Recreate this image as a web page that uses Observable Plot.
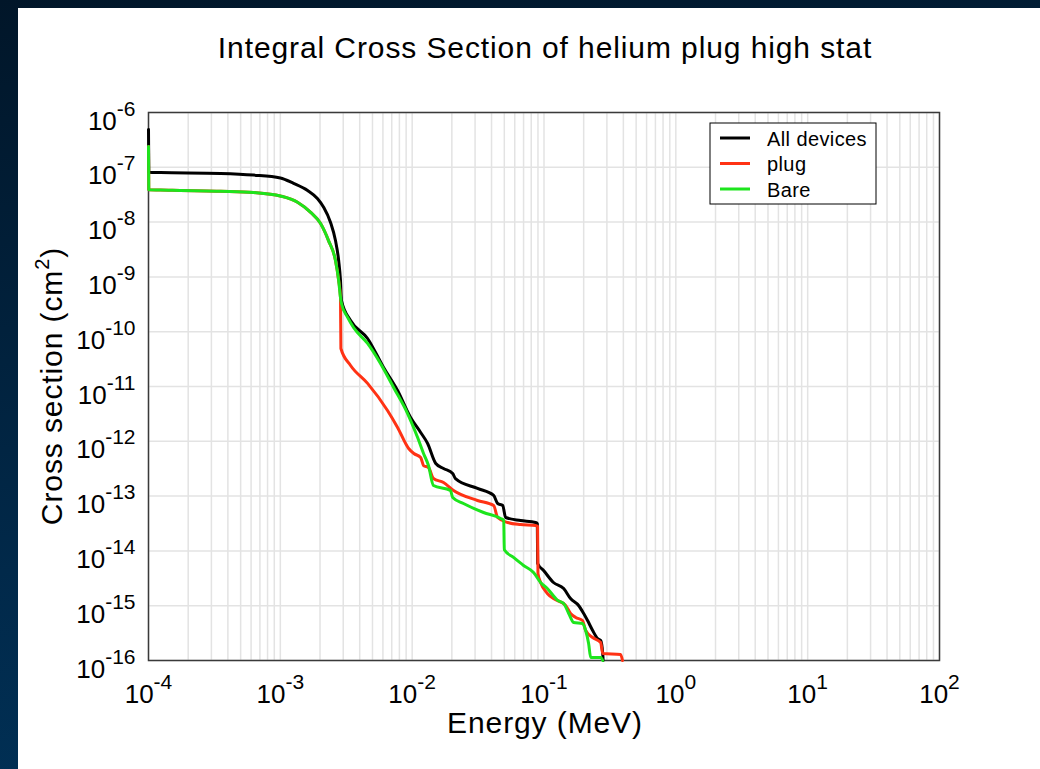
<!DOCTYPE html>
<html><head><meta charset="utf-8">
<script src="https://cdn.jsdelivr.net/npm/d3@7"></script>
<script src="https://cdn.jsdelivr.net/npm/@observablehq/plot@0.6"></script>
<style>
html,body{margin:0;padding:0;width:1040px;height:769px;overflow:hidden;background:linear-gradient(170deg,#011629 0%,#01294a 60%,#00345c 100%);}
#panel{position:absolute;left:18px;top:8px;width:1022px;height:761px;background:#fff;}
#panel svg{font-family:"Liberation Sans",Arial,Helvetica,sans-serif;display:block;}
</style></head><body><div id="panel"></div>
<script>
// ---- data (Energy in MeV, integral cross section in cm^2) ----
const allE = [1.00e-4,1.005e-4,1.23e-4,3.52e-4,6.26e-4,1.00e-3,1.26e-3,1.61e-3,1.91e-3,2.13e-3,2.40e-3,2.62e-3,2.77e-3,2.86e-3,2.91e-3,
  3.41e-3,4.59e-3,6.07e-3,7.75e-3,9.73e-3,1.16e-2,1.31e-2,1.51e-2,1.73e-2,2.03e-2,2.13e-2,3.13e-2,4.15e-2,4.45e-2,4.86e-2,5.12e-2,
  6.64e-2,8.63e-2,8.90e-2,8.95e-2,9.93e-2,1.18e-1,1.41e-1,1.59e-1,1.83e-1,2.00e-1,2.14e-1,2.34e-1,2.55e-1,2.69e-1,2.79e-1,2.81e-1];
const allS = [4.9e-7,8.1e-8,8.0e-8,7.7e-8,7.2e-8,6.4e-8,5.1e-8,3.78e-8,2.70e-8,1.87e-8,9.95e-9,4.6e-9,1.99e-9,8.6e-10,3.71e-10,
  1.60e-10,7.52e-11,2.22e-11,8.45e-12,2.72e-12,1.45e-12,9.12e-13,3.94e-13,3.19e-13,2.58e-13,2.09e-13,1.38e-13,1.03e-13,7.33e-14,6.73e-14,4.07e-14,
  3.59e-14,3.30e-14,3.15e-14,5.89e-15,4.39e-15,2.65e-15,2.06e-15,1.35e-15,1.01e-15,7.21e-16,5.37e-16,3.52e-16,2.52e-16,2.32e-16,1.34e-16,1.0e-16];

const plugE = [1.00e-4,1.005e-4,1.23e-4,3.52e-4,6.26e-4,1.00e-3,1.35e-3,1.69e-3,2.02e-3,2.32e-3,2.62e-3,2.77e-3,2.86e-3,2.88e-3,
  3.41e-3,4.59e-3,6.50e-3,7.75e-3,9.40e-3,1.03e-2,1.16e-2,1.22e-2,1.33e-2,1.45e-2,1.73e-2,2.06e-2,3.13e-2,4.15e-2,4.45e-2,5.30e-2,
  6.64e-2,8.63e-2,8.94e-2,9.00e-2,9.42e-2,1.06e-1,1.18e-1,1.46e-1,1.59e-1,1.74e-1,1.96e-1,2.07e-1,2.34e-1,2.69e-1,2.79e-1,3.81e-1,3.94e-1];
const plugS = [2.4e-7,3.88e-8,3.85e-8,3.66e-8,3.47e-8,3.0e-8,2.31e-8,1.52e-8,9.4e-9,4.6e-9,1.99e-9,8.6e-10,4.2e-10,4.93e-11,
  2.42e-11,1.14e-11,3.65e-12,1.79e-12,7.40e-13,5.99e-13,5.06e-13,3.61e-13,3.32e-13,2.09e-13,1.77e-13,1.27e-13,8.32e-14,6.73e-14,4.07e-14,3.30e-14,
  3.03e-14,2.91e-14,2.80e-14,3.87e-15,2.65e-15,1.67e-15,1.35e-15,1.01e-15,7.21e-16,6.10e-16,5.37e-16,3.52e-16,2.63e-16,2.13e-16,1.34e-16,1.29e-16,1.0e-16];

const bareE = [1.00e-4,1.005e-4,1.23e-4,3.52e-4,6.26e-4,1.00e-3,1.35e-3,1.69e-3,2.02e-3,2.32e-3,2.62e-3,2.77e-3,2.86e-3,2.91e-3,
  3.24e-3,3.59e-3,4.59e-3,5.75e-3,7.23e-3,9.23e-3,1.10e-2,1.22e-2,1.33e-2,1.45e-2,1.95e-2,2.03e-2,2.45e-2,3.48e-2,4.69e-2,4.95e-2,5.00e-2,
  5.87e-2,7.00e-2,8.33e-2,9.42e-2,1.06e-1,1.27e-1,1.41e-1,1.54e-1,1.68e-1,1.96e-1,2.07e-1,2.18e-1,2.26e-1,2.69e-1,2.79e-1];
const bareS = [2.4e-7,3.88e-8,3.85e-8,3.66e-8,3.47e-8,3.0e-8,2.31e-8,1.52e-8,9.4e-9,4.6e-9,1.99e-9,8.6e-10,4.2e-10,3.27e-10,
  1.82e-10,1.19e-10,6.10e-11,2.63e-11,9.59e-12,3.21e-12,1.17e-12,5.99e-13,3.61e-13,1.56e-13,1.27e-13,9.42e-14,7.33e-14,5.02e-14,3.90e-14,3.59e-14,1.05e-14,
  7.59e-15,5.42e-15,4.04e-15,2.65e-15,2.06e-15,1.25e-15,1.10e-15,7.21e-16,4.93e-16,4.73e-16,3.52e-16,2.04e-16,1.14e-16,1.14e-16,1.0e-16];

const seriesNames = ["All devices","plug","Bare"];
const seriesColors = ["#000000","#ff3214","#1de51d"];
const xExps = [-4,-3,-2,-1,0,1,2];
const yExps = [-16,-15,-14,-13,-12,-11,-10,-9,-8,-7,-6];
const titleText = "Integral Cross Section of helium plug high stat";
const xLabel = "Energy (MeV)";

// ---- build ----
const W = 1022, H = 761, mL = 130, mR = 101, mT = 104, mB = 109;
const xTicks = xExps.map(p => +("1e" + p));
const yTicks = yExps.map(p => +("1e" + p));
const xGrid = [];
for (let p = -4; p < 2; p++) for (let k = 1; k < 10; k++) xGrid.push(+(k + "e" + p));
xGrid.push(1e2);

const series = [
  {name: seriesNames[0], color: seriesColors[0], E: allE, S: allS},
  {name: seriesNames[1], color: seriesColors[1], E: plugE, S: plugS},
  {name: seriesNames[2], color: seriesColors[2], E: bareE, S: bareS}
];
const rows = s => s.E.map((e, i) => ({E: e, S: s.S[i]}));
const fmt = d => "10^" + Math.round(Math.log10(d));

const chart = Plot.plot({
  width: W, height: H, marginLeft: mL, marginRight: mR, marginTop: mT, marginBottom: mB,
  style: {background: "transparent", fontFamily: "'Liberation Sans',Arial,Helvetica,sans-serif", overflow: "visible"},
  x: {type: "log", domain: [1e-4, 1e2], axis: null},
  y: {type: "log", domain: [1e-16, 1e-6], axis: null},
  marks: [
    Plot.ruleX(xGrid, {x: d => d, stroke: "#e3e3e3", strokeWidth: 1.5}),
    Plot.ruleY(yTicks, {y: d => d, stroke: "#e3e3e3", strokeWidth: 1.5}),
    Plot.frame({stroke: "#3a3a3a", strokeWidth: 1.5}),
    ...series.map(s => Plot.line(rows(s), {x: "E", y: "S", stroke: s.color, strokeWidth: 3, strokeLinejoin: "round", curve: "monotone-x"})),
    Plot.text(xTicks, {x: d => d, frameAnchor: "bottom", dy: 42, text: fmt, fontSize: 26, lineAnchor: "bottom", textAnchor: "middle", fill: "#000"}),
    Plot.text(yTicks, {y: d => d, frameAnchor: "left", dx: -13, dy: 17, text: fmt, fontSize: 26, lineAnchor: "bottom", textAnchor: "end", fill: "#000"})
  ]
});

const NS = "http://www.w3.org/2000/svg";
d3.select(chart).selectAll("text").each(function () {
  const m = /^10\^(-?\d+)$/.exec(this.textContent);
  if (m) {
    this.textContent = "10";
    const t = document.createElementNS(NS, "tspan");
    t.setAttribute("dy", "-14");
    t.setAttribute("font-size", "21");
    t.textContent = m[1];
    this.appendChild(t);
  }
});

const svg = d3.select(chart);
const txt = (x, y, s, size) => svg.append("text").attr("x", x).attr("y", y).attr("font-size", size)
  .attr("fill", "#000").attr("text-anchor", "middle").style("letter-spacing", "0.9px").text(s);
txt(527, 50, titleText, 30);
txt(527, 725, xLabel, 30);
const yl = svg.append("text").attr("transform", "translate(44,378) rotate(-90)").attr("font-size", 30)
  .attr("fill", "#000").attr("text-anchor", "middle").style("letter-spacing", "0.9px");
yl.append("tspan").text("Cross section (cm");
yl.append("tspan").attr("font-size", 20).attr("dy", -13).text("2");
yl.append("tspan").attr("dy", 13).text(")");

// legend
const lg = svg.append("g");
lg.append("rect").attr("x", 692).attr("y", 115).attr("width", 166).attr("height", 81)
  .attr("fill", "#fff").attr("stroke", "#000").attr("stroke-width", 1);
series.forEach((s, i) => {
  const yy = 130 + i * 25.5;
  lg.append("line").attr("x1", 702).attr("x2", 732).attr("y1", yy).attr("y2", yy)
    .attr("stroke", s.color).attr("stroke-width", 3);
  lg.append("text").attr("x", 749).attr("y", yy + 7.5).attr("font-size", 20).attr("fill", "#000")
    .attr("text-anchor", "start").style("letter-spacing", "0.4px").text(s.name);
});

document.getElementById("panel").appendChild(chart);
</script></body></html>
